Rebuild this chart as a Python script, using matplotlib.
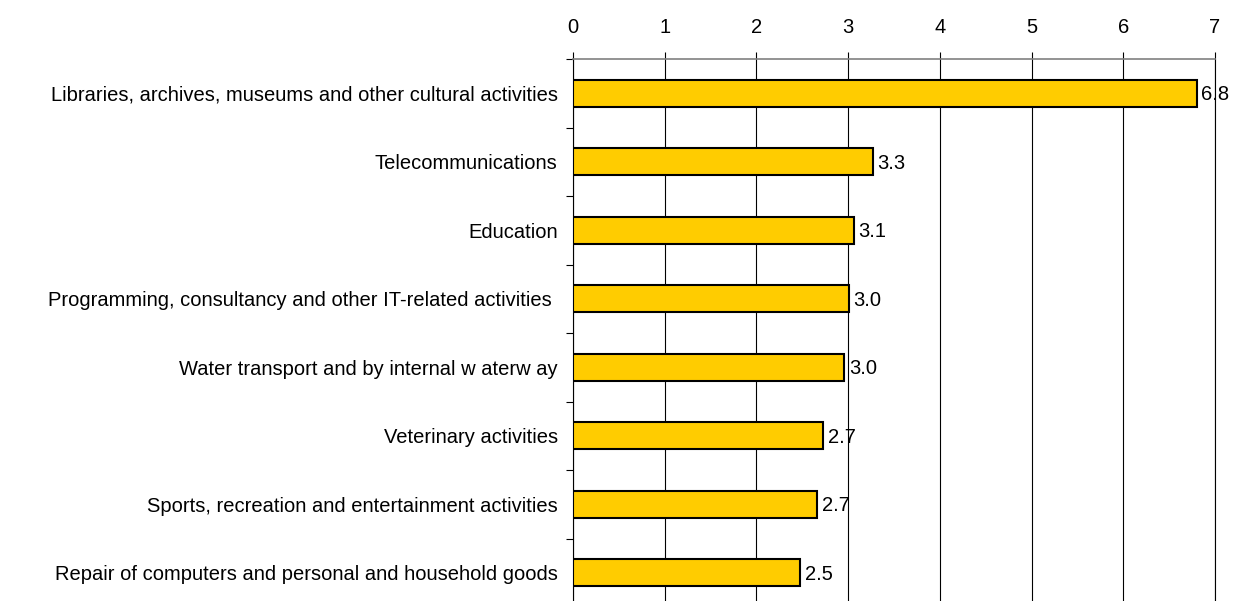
import matplotlib.pyplot as plt
import numpy as np

categories = [
    "Libraries, archives, museums and other cultural activities",
    "Telecommunications",
    "Education",
    "Programming, consultancy and other IT-related activities ",
    "Water transport and by internal w aterw ay",
    "Veterinary activities",
    "Sports, recreation and entertainment activities",
    "Repair of computers and personal and household goods",
]
values = [6.80, 3.27, 3.06, 3.01, 2.96, 2.73, 2.66, 2.48]
labels = ["6.8", "3.3", "3.1", "3.0", "3.0", "2.7", "2.7", "2.5"]
xticks = [0, 1, 2, 3, 4, 5, 6, 7]

plt.rcParams['font.family'] = ['Liberation Sans', 'DejaVu Sans']
fs = 14.5

fig = plt.figure(figsize=(12.44, 6.01), dpi=100)
ax = fig.add_axes([573 / 1244, -6 / 601, (1215 - 573) / 1244, (607 - 59) / 601])

y = np.arange(len(categories))
ax.barh(y, values, height=0.4, color='#FFCC00', edgecolor='black', linewidth=1.5, zorder=3)
for yi, v, lab in zip(y, values, labels):
    ax.text(v + 0.05, yi + 0.02, lab, va='center', ha='left', fontsize=fs, zorder=4)

ax.set_ylim(len(categories) - 0.5, -0.5)
ax.set_xlim(0, 7)
ax.set_xticks(xticks)
ax.xaxis.tick_top()
ax.tick_params(axis='x', length=5, width=0.8, pad=11, labelsize=fs)
ax.set_yticks(y)
ax.set_yticklabels(categories)
ax.tick_params(axis='y', length=0, pad=11, labelsize=fs)
ax.set_yticks(np.arange(len(categories) + 1) - 0.5, minor=True)
ax.tick_params(axis='y', which='minor', length=5, width=0.8)
ax.grid(axis='x', color='black', linewidth=0.8, zorder=0)

ax.spines['bottom'].set_visible(False)
ax.spines['right'].set_linewidth(0.8)
ax.spines['top'].set_color('#808080')
ax.spines['top'].set_linewidth(1.2)
ax.spines['left'].set_linewidth(0.8)

fig.savefig('out.png', dpi=100)
